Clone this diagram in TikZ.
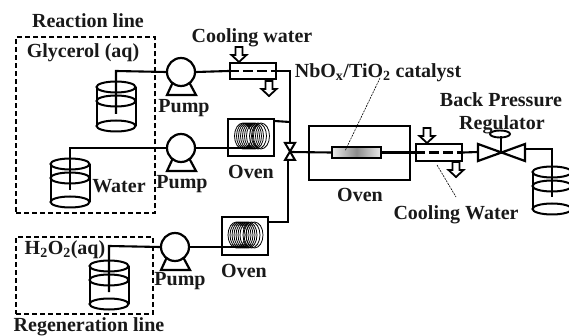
\documentclass[tikz,border=0pt]{standalone}
\usepackage{fontspec}
\setmainfont{Liberation Serif}
\usetikzlibrary{shadings}
\tikzset{
 pipe/.style={line width=2.1pt},
 boxline/.style={draw,line width=2.2pt,fill=none,inner sep=0pt},
 linebox/.style={draw,line width=2pt,dash pattern=on 5pt off 3pt},
 lab/.style={font=\bfseries\fontsize{20}{22}\selectfont,text=black!90,inner sep=0pt},
 pumpc/.style={circle,draw,line width=2.2pt,minimum size=28pt,inner sep=0pt,fill=white},
 leader/.style={line width=.6pt,dash pattern=on 2pt off 1pt},
 flowarrow/.style={line width=1.8pt},
}
% tank: name, x, top y, bottom y
\newcommand{\tank}[4]{%
 \coordinate (#1) at (#2,#3);
 \coordinate (#1dip) at (#2,#4-12);
 \draw[line width=2pt] (#2,#3) ellipse (19.5 and 5.5);
 \draw[line width=2pt] (#2,#3+14) ellipse (19.5 and 5.5);
 \draw[line width=2pt] (#2,#4) ellipse (19.5 and 5.5);
 \draw[line width=2pt] (#2-19.5,#3)--(#2-19.5,#4) (#2+19.5,#3)--(#2+19.5,#4);
}
\newcommand{\pumpbase}[3]{%
 \draw[line width=2.2pt] (#2-8,#3+10)--(#2-14,#3+23)--(#2+15,#3+23)--(#2+8,#3+10);
 \node[pumpc] (#1) at (#2,#3) {};
}
\newcommand{\coil}[2]{%
 \foreach \d in {-9,-7,-5,-3,-1,1,3,6,9}
  \draw[line width=.8pt] (#1+\d,#2) ellipse (8.5 and 13);
}
\newcommand{\flowdown}[3]{%
 \draw[flowarrow] (#1-3.5,#2)--(#1+3.5,#2)--(#1+3.5,#2+8)--(#1+7.5,#2+8)--(#1,#3)--(#1-7.5,#2+8)--(#1-3.5,#2+8)--cycle;
}
\begin{document}
\begin{tikzpicture}[x=1pt,y=-1pt]
\useasboundingbox (0,0) rectangle (569,336);
% dashed groups
\node[linebox,minimum width=139pt,minimum height=176pt,inner sep=0pt] (reaction) at (85.5,125.5) {};
\node[linebox,minimum width=137pt,minimum height=77pt,inner sep=0pt] (regen) at (84.5,275.5) {};
% tanks
\tank{t1}{116}{87}{126}
\tank{t2}{70}{164}{202}
\tank{t3}{109}{266}{304}
\tank{t4}{552}{172}{209}
% coordinates
\coordinate (j1) at (290,71);
\coordinate (v) at (290,152);
\coordinate (j3) at (288,222);
% pumps
\pumpbase{p1}{181}{72}
\pumpbase{p2}{181}{148}
\pumpbase{p3}{175}{247}
% coolers
\node[boxline,minimum width=46pt,minimum height=16pt] (c1) at (253,71) {};
\node[boxline,minimum width=46pt,minimum height=17pt] (c2) at (439,152.5) {};
% ovens
\node[boxline,minimum width=46pt,minimum height=37pt] (o1) at (251,137.5) {};
\node[boxline,minimum width=46pt,minimum height=38pt] (o3) at (245,236) {};
\node[boxline,minimum width=101pt,minimum height=54pt] (o2) at (359.5,153) {};
\coil{252}{136}
\coil{245.5}{235}
% catalyst
\node[draw,line width=2.2pt,minimum width=49pt,minimum height=11pt,inner sep=0pt,left color=black!8,right color=black!8,middle color=black!45] (cat) at (356.5,152.5) {};
% pipes
\draw[pipe] (t1dip)--(116,71)--(p1.west);
\draw[pipe] (t2dip)--(70,148)--(p2.west);
\draw[pipe] (t3dip)--(109,246)--(p3.west);
\draw[pipe] (p1.east)--(c1.west);
\draw[pipe] (c1.east)--(j1)--(v);
\draw[pipe] (p2.east)--(250,148);
\draw[pipe] (o1.north east)++(-2,3)--(290,122);
\draw[pipe] (p3.east)--(246,247);
\draw[pipe] (288,160)--(j3)--(o3.east |- j3);
\draw[pipe] (v)--(cat.west);
\draw[pipe] (cat.east)--(c2.west);
\draw[line width=2.2pt,dash pattern=on 10pt off 4pt] (c1.west)--(c1.east);
\draw[line width=2.2pt,dash pattern=on 10pt off 4pt] (c2.west)--(c2.east);
% valve
\draw[line width=2pt,fill=white] (285,143)--(295,143)--(285,160)--(295,160)--cycle;
% regulator
\coordinate (r) at (501,152);
\draw[pipe] (c2.east)--(478,152);
\draw[line width=2.2pt] (478,144)--(525,161)--(525,144)--(478,161)--cycle;
\draw[pipe] (r)--(501,136);
\draw[line width=1.9pt] (500,134) ellipse (10 and 3.5);
\draw[pipe] (525,149)--(552,149)--(t4dip);
% flow arrows
\flowdown{239}{47}{62}
\flowdown{269}{81}{96}
\flowdown{427}{128}{143}
\flowdown{456}{162}{177}
% leaders
\draw[leader] (380,78)--(345,151);
\draw[leader] (437,165)--(456,197);
% labels
\node[lab] (l1) at (88,21) {Reaction line};
\node[lab] (l2) at (252,38) {Cooling water};
\node[lab] (l3) at (83,53) {Glycerol (aq)};
\node[lab] (l4) at (184,108) {Pump};
\node[lab] (l5) at (119,186) {Water};
\node[lab] (l6) at (182,184) {Pump};
\node[lab] (l7) at (251,172) {Oven};
\node[lab] (l8) at (378,73) {NbO\textsubscript{x}/TiO\textsubscript{2} catalyst};
\node[lab] (l9) at (501,100) {Back Pressure};
\node[lab] (l10) at (502,125) {Regulator};
\node[lab] (l11) at (360,195) {Oven};
\node[lab] (l12) at (456,215) {Cooling Water};
\node[lab] (l13) at (65,250) {H\textsubscript{2}O\textsubscript{2}(aq)};
\node[lab] (l14) at (180,281) {Pump};
\node[lab] (l15) at (244,271) {Oven};
\node[lab] (l16) at (89,327) {Regeneration line};
\end{tikzpicture}
\end{document}
